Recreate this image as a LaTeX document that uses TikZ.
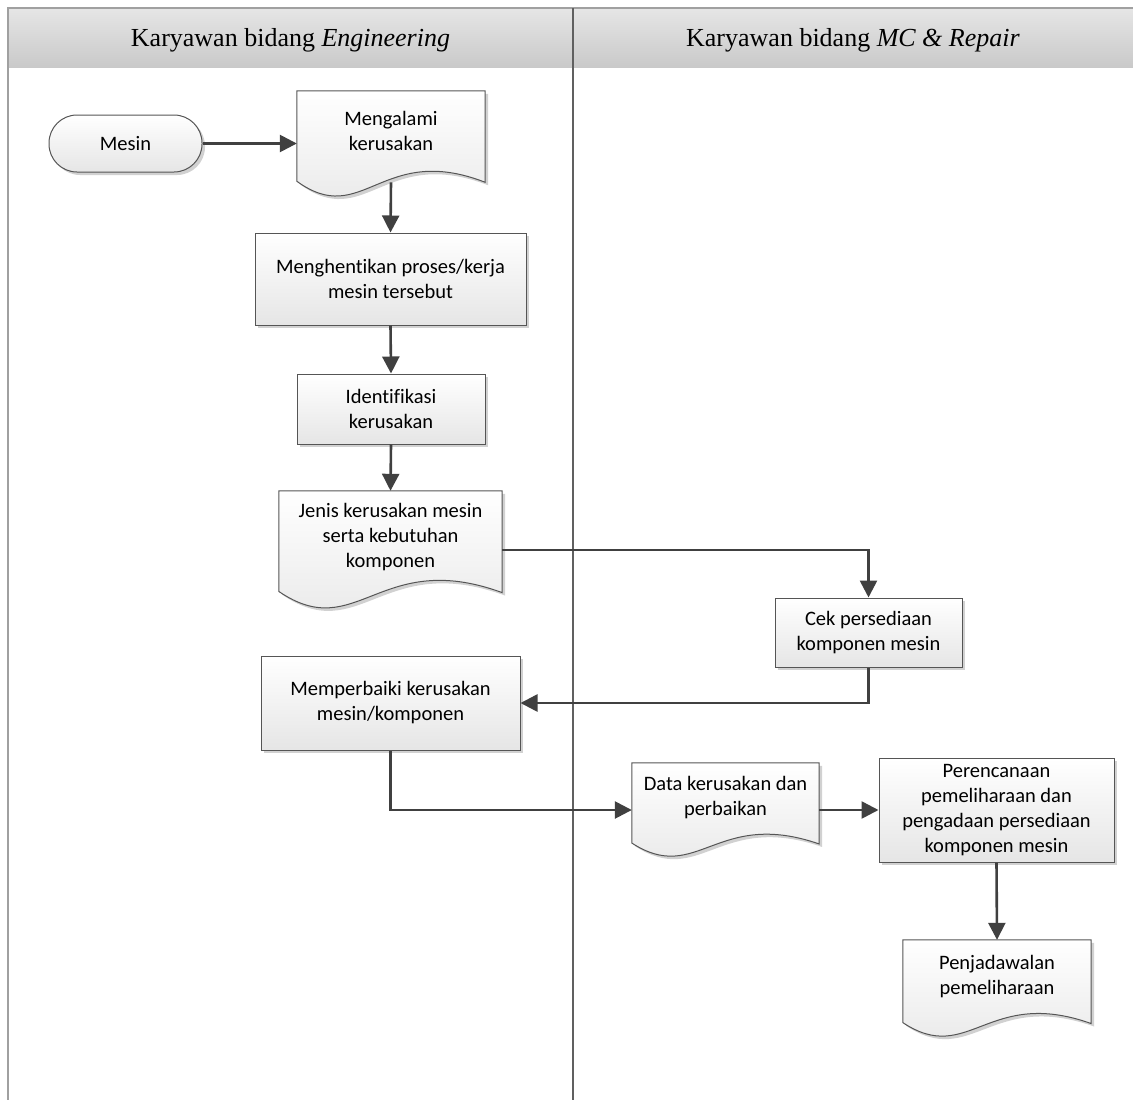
\documentclass[tikz,border=0pt]{standalone}
\usepackage{fontspec}
\setmainfont{Liberation Serif}
\newfontfamily\flowfont[Ligatures={NoCommon,NoContextual}]{Carlito}
\usetikzlibrary{arrows.meta,calc,shadows}

\definecolor{edge}{HTML}{555555}
\definecolor{wire}{HTML}{404040}
\definecolor{lane}{HTML}{A0A0A0}
\definecolor{divider}{HTML}{606060}

\tikzset{
  box/.style={draw=edge, line width=1pt, top color=white, bottom color=black!10,
    drop shadow={shadow xshift=3pt, shadow yshift=-3pt, fill=black!18, opacity=1}},
  txt/.style={align=center, inner sep=0pt, font=\flowfont\fontsize{20.5}{25}\selectfont},
  proc/.style={box, rectangle, txt},
  term/.style={proc, rounded corners=28pt},
  docframe/.style={rectangle, inner sep=0pt},
  wire/.style={draw=wire, line width=2.6pt, line join=miter, -{Triangle[length=17pt,width=17pt]}},
  lanehead/.style={inner sep=0pt, font=\fontsize{26}{30}\selectfont}
}

% paper-document outline: flat top, wavy bottom edge
\newcommand\docshape[1]{%
  \path[box] (#1.north west) -- (#1.north east)
    -- ($(#1.north east)!0.86!(#1.south east)$)
    .. controls ($($(#1.north west)!0.45!(#1.north east)$)!0.48!($(#1.south west)!0.45!(#1.south east)$)$)
       and ($($(#1.north west)!0.35!(#1.north east)$)!1.3!($(#1.south west)!0.35!(#1.south east)$)$)
    .. ($(#1.north west)!0.85!(#1.south west)$) -- cycle;}

\begin{document}
\begin{tikzpicture}[x=1pt, y=-1pt]
\useasboundingbox (0,0) rectangle (1133,1100);
\clip (0,0) rectangle (1133,1100);

% swimlane frame and headers
\fill[top color=black!10, bottom color=black!21] (8,8) rectangle (1140,67);
\draw[lane, line width=1.2pt] (8,1110) -- (8,8) -- (1140,8);
\draw[divider, line width=1.3pt] (573,8) -- (573,1110);
\node[lanehead] (h1) at (290.5,40) {Karyawan bidang \textit{Engineering}};
\node[lanehead] (h2) at (853,40) {Karyawan bidang \textit{MC \& Repair}};

% flow elements
\node[term, minimum width=153pt, minimum height=57pt] (ms) at (125.5,143.5) {Mesin};

\node[docframe, minimum width=188pt, minimum height=106pt] (mk) at (391,144) {};
\docshape{mk}
\node[txt] (mkt) at ([yshift=13pt]mk.center) {Mengalami\\kerusakan};

\node[proc, minimum width=271pt, minimum height=92pt] (mh) at (390.5,279) {Menghentikan proses/kerja\\mesin tersebut};

\node[proc, minimum width=188pt, minimum height=70pt] (id) at (391,409) {Identifikasi\\kerusakan};

\node[docframe, minimum width=223pt, minimum height=118pt] (jn) at (390.5,550) {};
\docshape{jn}
\node[txt] (jnt) at ([yshift=13pt]jn.center) {Jenis kerusakan mesin\\serta kebutuhan\\komponen};

\node[proc, minimum width=187pt, minimum height=69pt] (ck) at (868.5,632.5) {Cek persediaan\\komponen mesin};

\node[proc, minimum width=259pt, minimum height=94pt] (mp) at (390.5,703) {Memperbaiki kerusakan\\mesin/komponen};

\node[docframe, minimum width=187pt, minimum height=94pt] (dt) at (725.5,810) {};
\docshape{dt}
\node[txt] (dtt) at ([yshift=12pt]dt.center) {Data kerusakan dan\\perbaikan};

\node[proc, minimum width=235pt, minimum height=104pt] (pr) at (996.5,810) {Perencanaan\\pemeliharaan dan\\pengadaan persediaan\\komponen mesin};

\node[docframe, minimum width=188pt, minimum height=97pt] (pj) at (997,988.5) {};
\docshape{pj}
\node[txt] (pjt) at ([yshift=12pt]pj.center) {Penjadawalan\\pemeliharaan};

% connectors
\draw[wire] (ms.east) -- (ms.east -| mk.west);
\draw[wire] ($(mk.north)!0.86!(mk.south)$) -- (mh.north);
\draw[wire] (mh.south) -- (id.north);
\draw[wire] (id.south) -- (jn.north);
\draw[wire] (jn.east) -| (ck.north);
\draw[wire] (ck.south) |- (mp.east);
\draw[wire] (mp.south) |- (dt.west);
\draw[wire] (dt.east) -- (pr.west);
\draw[wire] (pr.south) -- (pj.north);
\end{tikzpicture}
\end{document}
